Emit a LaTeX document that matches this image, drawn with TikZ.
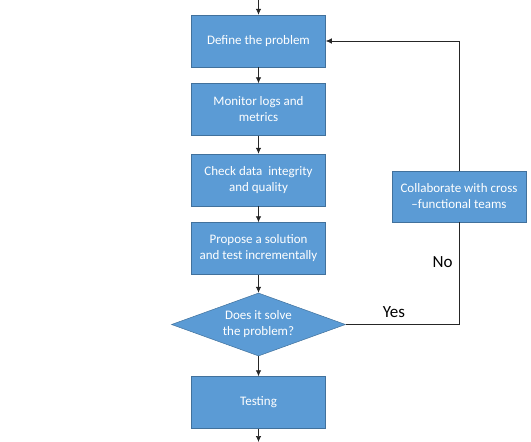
\documentclass[tikz,border=0pt]{standalone}
\usepackage{fontspec}
\setmainfont{Carlito}
\usetikzlibrary{arrows.meta,positioning,shapes.geometric}
\definecolor{boxblue}{RGB}{91,155,213}
\definecolor{boxedge}{RGB}{65,113,156}
\tikzset{
  stepbox/.style = {rectangle, draw=boxedge, line width=0.5pt, fill=boxblue, text=white, minimum height=52pt, minimum width=134pt, align=center, font=\fontsize{13}{16}\selectfont},
  decbox/.style = {diamond, draw=boxedge, line width=0.5pt, fill=boxblue, text=white, aspect=2.76, inner sep=0pt, minimum width=174pt, minimum height=63pt, align=center, font=\fontsize{13}{16}\selectfont},
  myline/.style = {line width=0.7pt, draw=black!85},
  myarrow/.style = {-{Latex[length=6pt,width=5.5pt]}, myline},
  mylabel/.style = {text=black, font=\fontsize{17}{20}\selectfont},
}

\begin{document}
\begin{tikzpicture}[x=1pt, y=-1pt, node distance=16pt]
\useasboundingbox (0,0) rectangle (531,442);
\coordinate (start) at (258.5,0);
\node[stepbox] (define) at (258.5,41) {Define the problem};
\node[stepbox, below=16pt of define] (monitor) {Monitor logs and\\metrics};
\node[stepbox, below=18pt of monitor] (check) {Check data\ \ integrity\\and quality};
\node[stepbox, below=16pt of check] (propose) {Propose a solution\\and test incrementally};
\node[decbox, below=18pt of propose] (decide) {Does it solve\\the problem?};
\node[stepbox, below=20pt of decide] (testing) {Testing};
\coordinate (finish) at (258.5,442);
\node[stepbox, minimum height=51pt] (collab) at (459,196.5) {Collaborate with cross\\–functional teams};
% main flow
\draw[myarrow] (start) -- (define);
\draw[myarrow] (define) -- (monitor);
\draw[myarrow] (monitor) -- (check);
\draw[myarrow] (check) -- (propose);
\draw[myarrow] (propose) -- (decide);
\draw[myarrow] (decide) -- (testing);
\draw[myarrow] (testing) -- (finish);
% loop back
\draw[myline] (decide.east) -| node[mylabel, pos=0.213, above, inner sep=7pt]{Yes} node[mylabel, pos=0.807, left, inner sep=6pt]{No} (collab.south);
\draw[myarrow] (collab.north) |- (define.east);
\end{tikzpicture}
\end{document}
